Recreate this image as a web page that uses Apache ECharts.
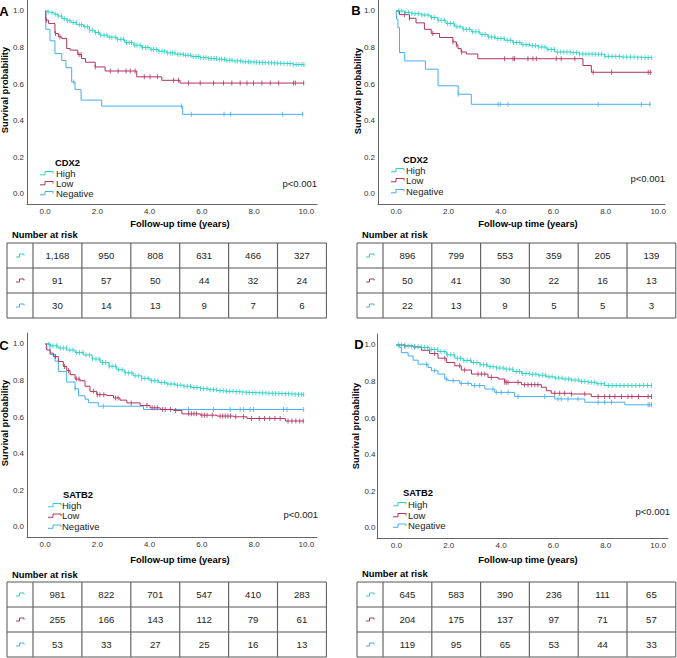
<!DOCTYPE html>
<html><head><meta charset="utf-8">
<script src="https://cdn.jsdelivr.net/npm/echarts@6/dist/echarts.min.js"></script>
<style>html,body{margin:0;padding:0;background:#fff}#c{width:677px;height:658px}</style>
</head><body><div id="c"></div>
<script>
// ---------- tick labels ----------
const xTicks = [0, 2, 4, 6, 8, 10];
const yTicks = [0, 0.2, 0.4, 0.6, 0.8, 1.0];
const groups = ['High', 'Low', 'Negative'];

// ---------- Panel A (CDX2) ----------
const A_high = [[0,1],[0.1,0.995],[0.2,0.99],[0.35,0.982],[0.5,0.972],[0.65,0.958],[0.83,0.947],[1.0,0.937],[1.2,0.925],[1.47,0.914],[1.7,0.895],[1.9,0.882],[2.1,0.868],[2.4,0.857],[2.75,0.845],[3.05,0.828],[3.38,0.813],[3.7,0.801],[4.02,0.79],[4.35,0.78],[4.66,0.771],[5.0,0.764],[5.3,0.758],[5.6,0.751],[5.94,0.745],[6.25,0.74],[6.58,0.736],[6.9,0.731],[7.2,0.727],[7.55,0.722],[7.85,0.72],[8.2,0.717],[8.49,0.716],[8.8,0.714],[9.13,0.712],[9.5,0.707],[9.92,0.703]];
const A_low = [[0,1],[0.03,0.95],[0.13,0.932],[0.38,0.877],[0.51,0.859],[0.64,0.85],[0.83,0.795],[0.96,0.786],[1.25,0.762],[1.4,0.74],[1.55,0.72],[1.92,0.694],[2.3,0.672],[3.51,0.64],[4.47,0.621],[5.17,0.606],[9.92,0.606]];
const A_neg = [[0,1],[0.03,0.9],[0.19,0.837],[0.38,0.767],[0.64,0.73],[0.8,0.69],[1.02,0.612],[1.15,0.57],[1.38,0.513],[2.17,0.48],[5.27,0.435],[9.88,0.435]];
const A_high_cens = [0.12,0.27,0.41,0.5,0.63,0.74,0.86,0.95,1.08,1.19,1.31,1.4,1.52,1.63,1.7,1.82,1.93,2.05,2.13,2.26,2.37,2.48,2.56,2.69,2.78,2.9,3.01,3.12,3.22,3.31,3.43,3.52,3.64,3.73,3.85,3.94,4.06,4.15,4.27,4.36,4.48,4.57,4.68,4.79,4.88,4.97,5.08,5.17,5.29,5.38,5.47,5.58,5.67,5.78,5.87,5.96,6.07,6.16,6.27,6.36,6.47,6.56,6.67,6.76,6.87,6.96,7.07,7.16,7.27,7.36,7.48,7.58,7.68,7.79,7.88,8.0,8.1,8.21,8.32,8.43,8.55,8.67,8.78,8.9,9.02,9.14,9.27,9.38,9.5,9.61,9.72,9.83,9.91];
const A_low_cens = [0.05,0.4,0.57,1.3,1.38,1.92,2.5,2.8,3.1,3.26,3.45,3.8,4.02,4.3,4.92,5.11,5.49,5.94,6.45,6.83,7.15,7.47,7.73,7.98,8.3,8.62,8.94,9.51,9.58,9.9];
const A_neg_cens = [1.1,5.22,5.6,6.85,7.1,9.1,9.86];
const A_risk_high = [1168,950,808,631,466,327];
const A_risk_low = [91,57,50,44,32,24];
const A_risk_neg = [30,14,13,9,7,6];

// ---------- Panel B (CDX2) ----------
const B_high = [[0,1],[0.32,0.991],[0.6,0.985],[0.96,0.978],[1.3,0.965],[1.59,0.95],[1.9,0.932],[2.23,0.914],[2.55,0.9],[2.87,0.886],[3.2,0.872],[3.5,0.858],[3.8,0.85],[4.14,0.84],[4.45,0.828],[4.78,0.816],[5.1,0.81],[5.41,0.803],[5.75,0.79],[6.05,0.776],[6.69,0.772],[7.0,0.765],[7.32,0.763],[7.96,0.752],[8.6,0.748],[9.2,0.745],[9.78,0.744]];
const B_low = [[0,1],[0.13,0.98],[0.51,0.96],[0.76,0.935],[1.08,0.9],[1.34,0.877],[1.66,0.855],[2.17,0.831],[2.3,0.815],[2.36,0.795],[2.48,0.776],[2.68,0.765],[3.12,0.739],[7.13,0.702],[7.45,0.665],[9.76,0.665]];
const B_neg = [[0,1],[0.02,0.955],[0.07,0.909],[0.13,0.773],[0.33,0.727],[1.12,0.682],[1.6,0.591],[2.37,0.545],[2.87,0.49],[9.72,0.49]];
const B_high_cens = [0.1,0.22,0.35,0.47,0.6,0.72,0.85,0.98,1.1,1.22,1.35,1.47,1.6,1.72,1.84,1.96,2.08,2.2,2.32,2.44,2.56,2.68,2.8,2.92,3.04,3.16,3.28,3.4,3.52,3.64,3.76,3.88,4.0,4.12,4.24,4.36,4.48,4.6,4.72,4.84,4.96,5.08,5.2,5.32,5.44,5.56,5.68,5.8,5.92,6.04,6.16,6.28,6.4,6.52,6.64,6.76,6.88,7.0,7.12,7.24,7.36,7.48,7.6,7.72,7.84,7.96,8.1,8.24,8.38,8.52,8.66,8.8,8.94,9.08,9.22,9.36,9.5,9.62,9.74];
const B_low_cens = [0.32,0.51,1.4,2.17,2.3,2.5,4.14,4.46,4.52,5.03,5.22,5.35,6.11,6.3,6.82,7.52,8.22,9.62,9.7];
const B_neg_cens = [2.37,3.89,3.97,4.27,7.71,9.36,9.68];
const B_risk_high = [896,799,553,359,205,139];
const B_risk_low = [50,41,30,22,16,13];
const B_risk_neg = [22,13,9,5,5,3];

// ---------- Panel C (SATB2) ----------
const C_high = [[0,1],[0.2,0.99],[0.5,0.978],[0.83,0.967],[1.15,0.953],[1.47,0.94],[1.8,0.918],[2.11,0.899],[2.45,0.878],[2.75,0.859],[3.05,0.842],[3.38,0.826],[3.7,0.812],[4.02,0.799],[4.35,0.789],[4.66,0.781],[5.0,0.775],[5.3,0.769],[5.6,0.762],[5.94,0.756],[6.25,0.75],[6.58,0.745],[6.9,0.741],[7.22,0.738],[7.55,0.735],[7.85,0.732],[8.49,0.729],[9.13,0.727],[9.5,0.724],[9.92,0.722]];
const C_low = [[0,1],[0.06,0.967],[0.2,0.95],[0.32,0.931],[0.51,0.904],[0.7,0.877],[0.83,0.855],[0.96,0.832],[1.15,0.808],[1.34,0.799],[1.53,0.769],[1.72,0.741],[1.98,0.723],[2.36,0.718],[2.62,0.705],[2.87,0.693],[3.13,0.678],[3.64,0.664],[4.02,0.651],[4.41,0.642],[4.92,0.637],[5.24,0.618],[5.94,0.611],[6.58,0.606],[7.22,0.602],[7.73,0.593],[9.2,0.579],[9.92,0.579]];
const C_neg = [[0,1],[0.19,0.943],[0.38,0.906],[0.51,0.849],[0.83,0.792],[1.15,0.755],[1.28,0.717],[1.53,0.698],[1.66,0.679],[2.04,0.66],[3.77,0.642],[9.9,0.642]];
const C_high_cens = [0.15,0.3,0.44,0.58,0.7,0.82,0.95,1.07,1.2,1.32,1.45,1.57,1.7,1.82,1.95,2.07,2.2,2.32,2.45,2.57,2.7,2.82,2.95,3.07,3.2,3.32,3.45,3.57,3.7,3.82,3.95,4.07,4.2,4.32,4.45,4.57,4.7,4.82,4.95,5.07,5.2,5.32,5.45,5.57,5.7,5.82,5.95,6.07,6.2,6.32,6.45,6.57,6.7,6.82,6.95,7.07,7.2,7.32,7.45,7.57,7.7,7.82,7.95,8.07,8.2,8.32,8.45,8.57,8.7,8.82,8.95,9.07,9.2,9.32,9.45,9.57,9.7,9.82,9.9];
const C_low_cens = [0.4,0.75,0.9,1.2,1.3,1.85,2.0,2.1,2.25,2.7,2.8,3.3,3.9,4.1,4.2,4.3,4.5,4.6,4.8,5.0,5.5,5.6,5.7,5.8,6.0,6.1,6.2,6.4,6.7,6.8,6.9,7.0,7.1,7.3,7.6,7.9,8.2,8.4,8.6,8.8,9.0,9.3,9.45,9.6,9.75,9.88];
const C_neg_cens = [1.15,2.23,5.49,6.45,7.09,7.47,7.6,7.85,7.98,9.13,9.26,9.9];
const C_risk_high = [981,822,701,547,410,283];
const C_risk_low = [255,166,143,112,79,61];
const C_risk_neg = [53,33,27,25,16,13];

// ---------- Panel D (SATB2) ----------
const D_high = [[0,1],[0.32,0.995],[0.64,0.99],[0.96,0.986],[1.27,0.975],[1.59,0.964],[1.91,0.946],[2.23,0.928],[2.55,0.915],[2.87,0.904],[3.2,0.892],[3.5,0.881],[3.82,0.874],[4.14,0.868],[4.46,0.855],[4.78,0.844],[5.1,0.84],[5.41,0.835],[5.73,0.826],[6.05,0.819],[6.37,0.814],[6.69,0.808],[7.0,0.8],[7.32,0.796],[7.64,0.788],[7.96,0.778],[9.77,0.778]];
const D_low = [[0,1],[0.32,0.995],[0.64,0.989],[0.96,0.971],[1.27,0.953],[1.59,0.928],[1.91,0.904],[2.23,0.886],[2.48,0.863],[2.87,0.841],[3.5,0.823],[3.89,0.814],[4.14,0.796],[4.78,0.783],[5.54,0.769],[5.73,0.75],[5.92,0.736],[6.69,0.732],[7.45,0.718],[9.77,0.718]];
const D_neg = [[0,1],[0.13,0.986],[0.19,0.958],[0.45,0.94],[0.64,0.917],[0.83,0.895],[1.21,0.877],[1.34,0.859],[1.59,0.841],[1.85,0.814],[1.97,0.805],[2.42,0.79],[2.87,0.778],[3.38,0.759],[3.76,0.741],[4.52,0.718],[6.05,0.705],[7.2,0.687],[8.73,0.673],[9.77,0.673]];
const D_high_cens = [0.08,0.2,0.33,0.45,0.58,0.7,0.83,0.95,1.08,1.2,1.33,1.45,1.58,1.7,1.83,1.95,2.08,2.2,2.33,2.45,2.58,2.7,2.83,2.95,3.08,3.2,3.33,3.45,3.58,3.7,3.83,3.95,4.08,4.2,4.33,4.45,4.58,4.7,4.83,4.95,5.08,5.2,5.33,5.45,5.58,5.7,5.83,5.95,6.08,6.2,6.33,6.45,6.58,6.7,6.83,6.95,7.08,7.2,7.33,7.45,7.58,7.7,7.83,7.95,8.1,8.25,8.4,8.55,8.7,8.85,9.0,9.15,9.3,9.45,9.6,9.75];
const D_low_cens = [0.32,0.7,1.46,1.85,2.42,2.61,3.12,3.25,3.38,3.63,4.14,4.2,4.27,4.65,4.9,5.03,5.16,5.29,5.41,6.05,6.24,6.43,6.69,7.2,7.71,7.96,8.15,8.35,8.6,8.85,9.0,9.25,9.62,9.75];
const D_neg_cens = [1.15,1.46,1.91,2.17,2.48,2.74,2.99,3.18,3.69,3.82,4.01,4.27,4.65,5.67,6.18,6.3,6.56,6.94,7.71,7.96,8.22,9.62,9.68,9.75];
const D_risk_high = [645,583,390,236,111,65];
const D_risk_low = [204,175,137,97,71,57];
const D_risk_neg = [119,95,65,53,44,33];

// ---------- styling / layout ----------
const COL = ['#2ccfc4', '#b03262', '#45aef0'];
const FONT = '"Liberation Sans", Arial, sans-serif';
const panels = [
  {letter:'A', marker:'CDX2', curves:[A_high,A_low,A_neg], cens:[A_high_cens,A_low_cens,A_neg_cens], risk:[A_risk_high,A_risk_low,A_risk_neg],
   grid:{left:27,top:0,width:290,height:204}, xr:[-0.69,10.41], lp:[4,11], yt:[5,90], xt:[180,223], ym:3,
   lg:{title:[55,162], icon:40, text:56, rows:[173,183,193]}, p:[317,183], nar:[12,234], tb:{x:7,y:243,w0:26,w:48.9,h:25}},
  {letter:'B', marker:'CDX2', curves:[B_high,B_low,B_neg], cens:[B_high_cens,B_low_cens,B_neg_cens], risk:[B_risk_high,B_risk_low,B_risk_neg],
   grid:{left:378,top:0,width:287,height:204}, xr:[-0.69,10.26], lp:[356,10.5], yt:[358,91], xt:[528,223], ym:3,
   lg:{title:[403,159], icon:391, text:406, rows:[170,180,191]}, p:[665,178], nar:[362,234], tb:{x:357,y:243,w0:26,w:48.8,h:25}},
  {letter:'C', marker:'SATB2', curves:[C_high,C_low,C_neg], cens:[C_high_cens,C_low_cens,C_neg_cens], risk:[C_risk_high,C_risk_low,C_risk_neg],
   grid:{left:27,top:333,width:290,height:204}, xr:[-0.69,10.41], lp:[4,345.5], yt:[5,423], xt:[180,559], ym:3,
   lg:{title:[63,494], icon:48, text:62, rows:[505,515.5,526.5]}, p:[318,514], nar:[12,574], tb:{x:7,y:582,w0:26,w:48.9,h:25}},
  {letter:'D', marker:'SATB2', curves:[D_high,D_low,D_neg], cens:[D_high_cens,D_low_cens,D_neg_cens], risk:[D_risk_high,D_risk_low,D_risk_neg],
   grid:{left:377,top:334,width:291,height:204}, xr:[-0.74,10.38], lp:[359,344.5], yt:[356,426], xt:[528,559], ym:1.5,
   lg:{title:[403,492], icon:393, text:408, rows:[504,515,525.5]}, p:[670,511], nar:[362,573], tb:{x:357,y:582,w0:26,w:48.8,h:25}}
];

function survAt(curve, t) {
  let s = curve[0][1];
  for (const [ti, si] of curve) { if (ti <= t) s = si; else break; }
  return s;
}
function fmt(n) { return n.toLocaleString('en-US'); }

const grids = [], xAxes = [], yAxes = [], series = [], graphics = [];
const txt = (text, x, y, size, opts = {}) => ({
  type: 'text', x: x, y: y, rotation: opts.rot || 0, silent: true,
  style: { text: text, x: 0, y: 0, fill: opts.fill || '#111', font: (opts.bold ? 'bold ' : '') + size + 'px ' + FONT,
           textAlign: opts.align || 'left', textVerticalAlign: 'middle' }
});

panels.forEach((P, gi) => {
  grids.push(Object.assign({ containLabel: false }, P.grid));
  xAxes.push({ type: 'value', gridIndex: gi, min: P.xr[0], max: P.xr[1],
    axisLine: { show: true, onZero: false, lineStyle: { color: '#666', width: 1 } },
    axisTick: { show: false }, splitLine: { show: false },
    axisLabel: { customValues: xTicks, formatter: v => v.toFixed(1), color: '#333', fontSize: 8, fontFamily: FONT, margin: 3 } });
  yAxes.push({ type: 'value', gridIndex: gi, min: -0.055, max: 1.06,
    axisLine: { show: true, onZero: false, lineStyle: { color: '#666', width: 1 } },
    axisTick: { show: false }, splitLine: { show: false },
    axisLabel: { customValues: yTicks, formatter: v => v.toFixed(1), color: '#333', fontSize: 8, fontFamily: FONT, margin: P.ym } });

  [2, 1, 0].forEach(k => {
    series.push({ type: 'line', name: P.letter + ' ' + groups[k], xAxisIndex: gi, yAxisIndex: gi, step: 'end',
      data: P.curves[k], showSymbol: false, lineStyle: { color: COL[k], width: 1 }, z: 2 + (2 - k), silent: true });
    series.push({ type: 'scatter', name: P.letter + ' ' + groups[k] + ' censored', xAxisIndex: gi, yAxisIndex: gi,
      data: P.cens[k].map(t => [t, survAt(P.curves[k], t)]), symbol: 'rect', symbolSize: [1, 5],
      itemStyle: { color: COL[k] }, z: 2 + (2 - k), silent: true });
  });

  // panel letter & axis titles
  graphics.push(txt(P.letter, P.lp[0], P.lp[1], 13, { bold: true, align: 'center', fill: '#000' }));
  graphics.push(txt('Survival probability', P.yt[0], P.yt[1], 9.3, { bold: true, align: 'center', rot: Math.PI / 2, fill: '#000' }));
  graphics.push(txt('Follow-up time (years)', P.xt[0], P.xt[1], 9.4, { bold: true, align: 'center', fill: '#000' }));

  // legend
  graphics.push(txt(P.marker, P.lg.title[0], P.lg.title[1], 9.4, { bold: true, fill: '#000' }));
  groups.forEach((g, k) => {
    const y = P.lg.rows[k], x0 = P.lg.icon;
    graphics.push({ type: 'polyline', silent: true,
      shape: { points: [[x0, y + 1.8], [x0 + 5, y + 1.8], [x0 + 5, y - 1.5], [x0 + 13, y - 1.5], [x0 + 13, y + 0.5]] },
      style: { stroke: COL[k], fill: null, lineWidth: 1 } });
    graphics.push(txt(g, P.lg.text, y, 9.5, { fill: '#222' }));
  });
  graphics.push(txt('p<0.001', P.p[0], P.p[1], 9.5, { align: 'right', fill: '#222' }));

  // number at risk table
  graphics.push(txt('Number at risk', P.nar[0], P.nar[1], 9.4, { bold: true, fill: '#000' }));
  const T = P.tb, ncol = P.risk[0].length, W = T.w0 + T.w * ncol, H = T.h * 3;
  graphics.push({ type: 'rect', silent: true, shape: { x: T.x, y: T.y, width: W, height: H },
    style: { fill: null, stroke: '#555', lineWidth: 1 } });
  for (let r = 1; r < 3; r++) graphics.push({ type: 'line', silent: true,
    shape: { x1: T.x, y1: T.y + r * T.h, x2: T.x + W, y2: T.y + r * T.h }, style: { stroke: '#555', lineWidth: 1 } });
  for (let c = 0; c < ncol; c++) {
    const xl = T.x + T.w0 + c * T.w;
    graphics.push({ type: 'line', silent: true, shape: { x1: xl, y1: T.y, x2: xl, y2: T.y + H },
      style: { stroke: '#666', lineWidth: 1.2 } });
  }
  P.risk.forEach((row, k) => {
    const cy = T.y + (k + 0.5) * T.h, cx = T.x + T.w0 / 2;
    graphics.push({ type: 'polyline', silent: true,
      shape: { points: [[cx - 4, cy + 1.5], [cx - 0.5, cy + 1.5], [cx - 0.5, cy - 1.5], [cx + 4, cy - 1.5], [cx + 4, cy]] },
      style: { stroke: COL[k], fill: null, lineWidth: 1 } });
    row.forEach((v, c) => graphics.push(txt(fmt(v), T.x + T.w0 + (c + 0.5) * T.w, cy, 9.6, { align: 'center', fill: '#222' })));
  });
});

const chart = echarts.init(document.getElementById('c'), null, { renderer: 'svg', width: 677, height: 658 });
chart.setOption({
  animation: false, backgroundColor: '#fff',
  grid: grids, xAxis: xAxes, yAxis: yAxes, series: series, graphic: graphics
});
</script></body></html>
